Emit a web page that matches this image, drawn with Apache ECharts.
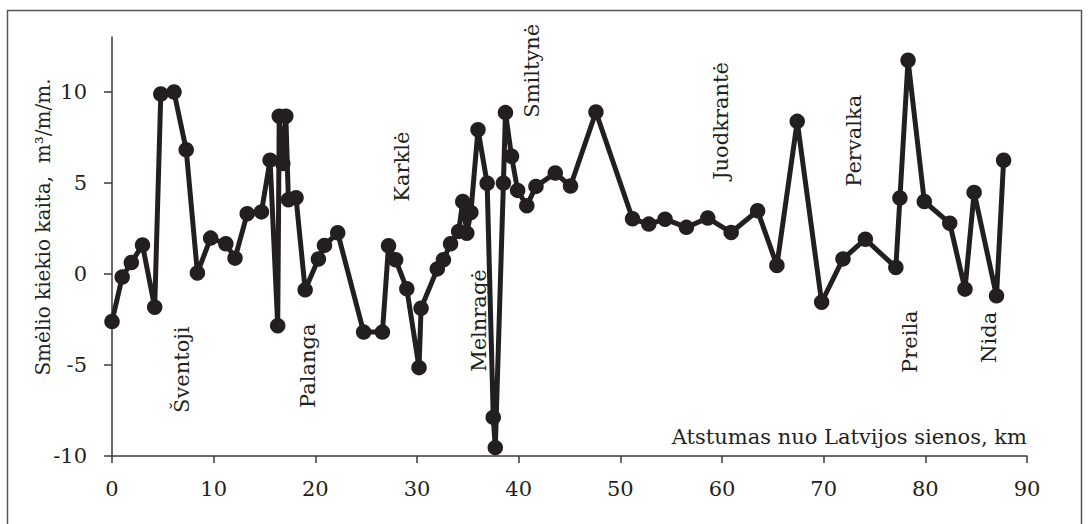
<!DOCTYPE html>
<html><head><meta charset="utf-8">
<script src="https://cdn.jsdelivr.net/npm/echarts@6/dist/echarts.min.js"></script>
<style>html,body{margin:0;padding:0;background:#fff}#c{width:1088px;height:524px}</style>
</head><body><div id="c"></div>
<script>
// distance from Latvian border, km
const distanceKm = [0.0,1.0,1.9,3.0,4.2,4.8,6.1,7.3,8.4,9.7,11.2,12.1,13.3,14.7,15.55,16.3,16.45,16.8,17.1,17.35,18.1,19.0,20.3,20.9,22.2,24.75,26.6,27.2,27.9,29.0,30.2,30.4,32.0,32.6,33.3,34.1,34.5,34.9,35.3,36.0,36.9,37.5,37.7,38.5,38.7,39.3,39.9,40.8,41.7,43.6,45.1,47.6,51.2,52.8,54.4,56.5,58.6,60.9,63.5,65.4,67.4,69.8,71.9,74.1,77.1,77.5,78.3,79.9,82.4,83.9,84.8,87.0,87.7];
// sand volume change, m3/m/m
const sandChange = [-2.62,-0.18,0.62,1.58,-1.83,9.87,9.98,6.81,0.05,1.96,1.65,0.86,3.30,3.40,6.24,-2.85,8.65,6.05,8.65,4.07,4.18,-0.88,0.81,1.56,2.25,-3.2,-3.2,1.54,0.77,-0.82,-5.15,-1.89,0.27,0.77,1.65,2.33,3.97,2.23,3.37,7.91,4.97,-7.88,-9.54,4.98,8.85,6.45,4.58,3.74,4.8,5.53,4.82,8.88,3.02,2.73,3.0,2.55,3.06,2.27,3.46,0.46,8.37,-1.56,0.82,1.90,0.35,4.16,11.72,3.97,2.78,-0.84,4.47,-1.21,6.23];
const yTicks = [-10,-5,0,5,10];
const xTicks = [0,10,20,30,40,50,60,70,80,90];
// place names and where their (bottom) anchors sit, in data units
const placeNames = ['Šventoji','Palanga','Karklė','Melnragė','Smiltynė','Juodkrantė','Pervalka','Preila','Nida'];
const placeKm    = [6.86, 19.26, 28.5, 36.1, 41.3, 59.9, 73.0, 78.5, 86.3];
const placeVal   = [-7.64, -7.36, 3.96, -5.38, 8.57, 5.16, 4.78, -5.44, -4.89];
const yTitle = 'Smėlio kiekio kaita,  m³/m/m.';
const xTitle = 'Atstumas nuo Latvijos sienos, km';

const FONT = '"DejaVu Serif", "Liberation Serif", serif';
const FS = 21;
const ink = '#231f20';
const axisCol = '#3a3a3a';
const chart = echarts.init(document.getElementById('c'), null, {renderer:'svg'});
const pts = distanceKm.map((x,i)=>[x, sandChange[i]]);
chart.setOption({
  animation:false,
  grid:{left:112, right:61, top:37, bottom:68},
  xAxis:{type:'value', min:0, max:90, interval:10,
    axisLine:{show:true, onZero:false, lineStyle:{color:axisCol, width:1.5}},
    axisTick:{show:true, inside:false, length:7, lineStyle:{color:axisCol, width:1.5}},
    axisLabel:{margin:22, color:ink, fontFamily:FONT, fontSize:FS, customValues:xTicks},
    splitLine:{show:false}},
  yAxis:{type:'value', min:-10, max:13, interval:5,
    axisLine:{show:true, onZero:false, lineStyle:{color:axisCol, width:1.5}},
    axisTick:{show:true, inside:false, length:8, customValues:yTicks, lineStyle:{color:axisCol, width:1.5}},
    axisLabel:{margin:25, color:ink, fontFamily:FONT, fontSize:FS, customValues:yTicks},
    splitLine:{show:false}},
  series:[{type:'line', data:pts, symbol:'circle', symbolSize:15.5,
    lineStyle:{color:ink, width:5}, itemStyle:{color:ink}}]
});
const graphics = [
  {type:'rect', shape:{x:7.5, y:10.5, width:1074, height:530}, style:{fill:'none', stroke:'#555', lineWidth:1.5}, silent:true},
  {type:'text', x:43, y:227, rotation:Math.PI/2, style:{text:yTitle, font:'20px '+FONT, fill:ink, textAlign:'center', textVerticalAlign:'middle'}},
  {type:'text', x:1027, y:437, style:{text:xTitle, font:FS+'px '+FONT, fill:ink, textAlign:'right', textVerticalAlign:'middle'}}
];
placeNames.forEach((n,i)=>{
  const p = chart.convertToPixel({gridIndex:0}, [placeKm[i], placeVal[i]]);
  graphics.push({type:'text', x:p[0], y:p[1], rotation:Math.PI/2,
    style:{text:n, font:FS+'px '+FONT, fill:ink, textAlign:'left', textVerticalAlign:'middle'}});
});
chart.setOption({graphic:graphics});
</script></body></html>
